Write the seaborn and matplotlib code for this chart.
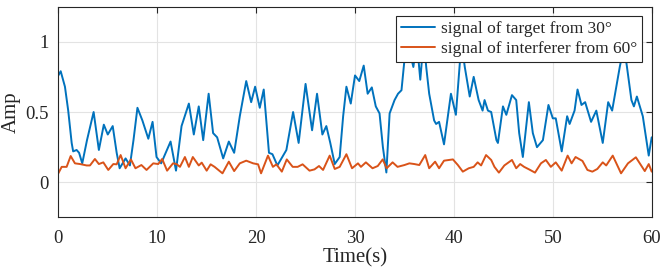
import numpy as np
import pandas as pd
import matplotlib
matplotlib.use('Agg')
import matplotlib.pyplot as plt
import seaborn as sns

# values
t_target = [0, 0.24, 0.67, 1.0, 1.35, 1.5, 1.85, 2.1, 2.42, 2.9, 3.57, 4.1, 4.6, 5.0, 5.5, 5.9,
            6.2, 6.8, 7.24, 7.6, 8.0, 8.5, 9.1, 9.53, 9.93, 10.4, 11.35, 11.9, 12.46, 13.2, 13.7,
            14.2, 14.65, 15.2, 15.65, 16.06, 16.67, 17.24, 17.78, 18.35, 19.0, 19.5, 19.9, 20.37,
            20.77, 21.3, 21.65, 22.15, 23.06, 23.74, 24.3, 25.0, 25.66, 26.16, 26.7, 27.1, 27.5,
            27.95, 28.45, 28.8, 29.13, 29.57, 30.0, 30.43, 30.88, 31.28, 31.7, 32.1, 32.48, 32.82,
            33.17, 33.5, 34.0, 34.35, 34.7, 35.0, 35.3, 35.9, 36.25, 36.6, 36.95, 37.2, 37.5, 38.0,
            38.2, 38.5, 39.0, 39.7, 40.2, 40.6, 40.85, 41.1, 41.6, 42.0, 42.5, 42.9, 43.1, 43.44,
            43.77, 44.3, 44.45, 44.96, 45.3, 45.87, 46.3, 46.6, 46.97, 47.58, 47.98, 48.4, 49.0,
            49.56, 50.0, 50.3, 50.9, 51.45, 51.7, 52.2, 52.5, 52.9, 53.27, 53.87, 54.4, 55.05,
            55.6, 56.0, 56.77, 57.2, 57.5, 57.95, 58.2, 58.5, 59.1, 59.7, 60.0]
v_target = [0.76, 0.79, 0.68, 0.51, 0.28, 0.22, 0.23, 0.21, 0.135, 0.30, 0.50, 0.23, 0.41, 0.34,
            0.40, 0.21, 0.10, 0.17, 0.12, 0.30, 0.53, 0.44, 0.31, 0.43, 0.18, 0.135, 0.29, 0.083,
            0.40, 0.56, 0.34, 0.54, 0.30, 0.63, 0.35, 0.32, 0.17, 0.29, 0.21, 0.47, 0.72, 0.57,
            0.68, 0.53, 0.66, 0.21, 0.20, 0.12, 0.23, 0.50, 0.28, 0.70, 0.37, 0.63, 0.34, 0.40,
            0.28, 0.13, 0.18, 0.47, 0.68, 0.56, 0.76, 0.72, 0.83, 0.63, 0.675, 0.54, 0.49, 0.25,
            0.07, 0.49, 0.585, 0.63, 0.655, 0.87, 1.0, 0.82, 1.0, 0.73, 1.02, 0.82, 0.63, 0.44,
            0.415, 0.43, 0.27, 0.63, 0.48, 0.85, 0.95, 0.82, 0.61, 0.75, 0.585, 0.51, 0.585, 0.51,
            0.50, 0.30, 0.28, 0.54, 0.48, 0.62, 0.585, 0.35, 0.18, 0.57, 0.35, 0.25, 0.30, 0.55,
            0.455, 0.455, 0.22, 0.47, 0.415, 0.51, 0.66, 0.55, 0.57, 0.43, 0.51, 0.28, 0.57, 0.51,
            0.82, 0.97, 0.82, 0.585, 0.54, 0.61, 0.47, 0.19, 0.32]

t_interf = [0, 0.34, 0.84, 1.25, 1.68, 2.2, 2.86, 3.2, 3.7, 4.1, 4.55, 5.05, 5.56, 5.9, 6.3, 6.8,
            7.34, 7.8, 8.4, 8.92, 9.6, 10.1, 10.5, 11.0, 11.6, 11.95, 12.3, 12.8, 13.2, 13.6, 14.2,
            14.5, 15.0, 15.4, 15.8, 16.6, 17.24, 17.78, 18.35, 19.0, 19.7, 20.2, 20.5, 21.2, 21.7,
            22.05, 22.6, 23.1, 23.7, 24.2, 24.7, 25.4, 25.9, 26.36, 26.77, 27.44, 27.95, 28.45,
            29.13, 29.7, 30.3, 30.6, 31.1, 31.77, 32.3, 32.8, 33.2, 33.8, 34.3, 35.0, 35.5, 36.0,
            36.5, 37.1, 37.5, 38.1, 38.5, 39.0, 39.5, 39.9, 40.4, 40.9, 41.5, 42.0, 42.4, 42.75,
            43.25, 43.77, 44.1, 44.55, 45.1, 45.87, 46.3, 46.7, 47.1, 47.6, 48.2, 48.8, 49.3,
            49.8, 50.3, 50.9, 51.5, 51.9, 52.3, 53.0, 53.5, 54.0, 54.5, 55.05, 55.4, 56.06, 56.9,
            57.6, 58.4, 59.3, 59.7, 60.0]
v_interf = [0.064, 0.11, 0.11, 0.187, 0.135, 0.13, 0.12, 0.12, 0.166, 0.13, 0.142, 0.088, 0.13,
            0.128, 0.194, 0.10, 0.163, 0.10, 0.123, 0.088, 0.135, 0.13, 0.166, 0.083, 0.135, 0.13,
            0.11, 0.18, 0.11, 0.18, 0.12, 0.14, 0.083, 0.128, 0.11, 0.064, 0.147, 0.08, 0.135,
            0.154, 0.135, 0.128, 0.064, 0.19, 0.11, 0.128, 0.076, 0.163, 0.11, 0.11, 0.128, 0.083,
            0.092, 0.116, 0.088, 0.19, 0.095, 0.11, 0.20, 0.10, 0.135, 0.11, 0.142, 0.10, 0.116,
            0.163, 0.10, 0.142, 0.11, 0.123, 0.135, 0.13, 0.123, 0.194, 0.10, 0.147, 0.10, 0.154,
            0.159, 0.163, 0.123, 0.076, 0.10, 0.11, 0.142, 0.12, 0.194, 0.159, 0.11, 0.069, 0.12,
            0.159, 0.10, 0.13, 0.11, 0.092, 0.069, 0.135, 0.159, 0.11, 0.142, 0.083, 0.19, 0.135,
            0.18, 0.152, 0.088, 0.076, 0.095, 0.142, 0.12, 0.19, 0.064, 0.135, 0.178, 0.08, 0.13,
            0.076]

x_ticks = [0, 10, 20, 30, 40, 50, 60]
y_ticks = [0, 0.5, 1]
y_tick_labels = ['0', '0.5', '1']

sns.set_style('white')
plt.rcParams['font.family'] = ['Liberation Serif', 'DejaVu Serif']

fig = plt.figure(figsize=(6.65, 2.72), dpi=100)
ax = fig.add_axes([0.0877, 0.2004, 0.8923, 0.7756])

sns.lineplot(x=t_target, y=v_target, ax=ax, color='#0072BD', lw=1.4,
             label='signal of target from 30\u00b0')
sns.lineplot(x=t_interf, y=v_interf, ax=ax, color='#D95319', lw=1.4,
             label='signal of interferer from 60\u00b0')

ax.set_xlim(0, 60)
ax.set_ylim(-0.25, 1.25)
ax.set_xticks(x_ticks)
ax.set_yticks(y_ticks)
ax.set_yticklabels(y_tick_labels)
ax.grid(True, color='#e3e3e3', lw=0.8)
ax.tick_params(direction='in', length=4, width=0.8, colors='#262626', labelsize=13.5,
               top=True, right=True)
ax.tick_params(axis='x', pad=9)
ax.tick_params(axis='y', pad=7)
for s in ax.spines.values():
    s.set_color('#262626')
    s.set_linewidth(0.8)
ax.set_xlabel('Time(s)', fontsize=15, color='#262626', labelpad=1)
ax.set_ylabel('Amp', fontsize=15, color='#262626', labelpad=3)

leg = ax.legend(loc='upper right', fontsize=12.5, frameon=True, fancybox=False,
                borderaxespad=0.55, handlelength=2.0, handletextpad=0.3,
                borderpad=0.3, labelspacing=0.2)
leg.get_frame().set_edgecolor('#262626')
leg.get_frame().set_linewidth(0.8)
leg.get_frame().set_alpha(1)

fig.savefig('out.png', dpi=100)
